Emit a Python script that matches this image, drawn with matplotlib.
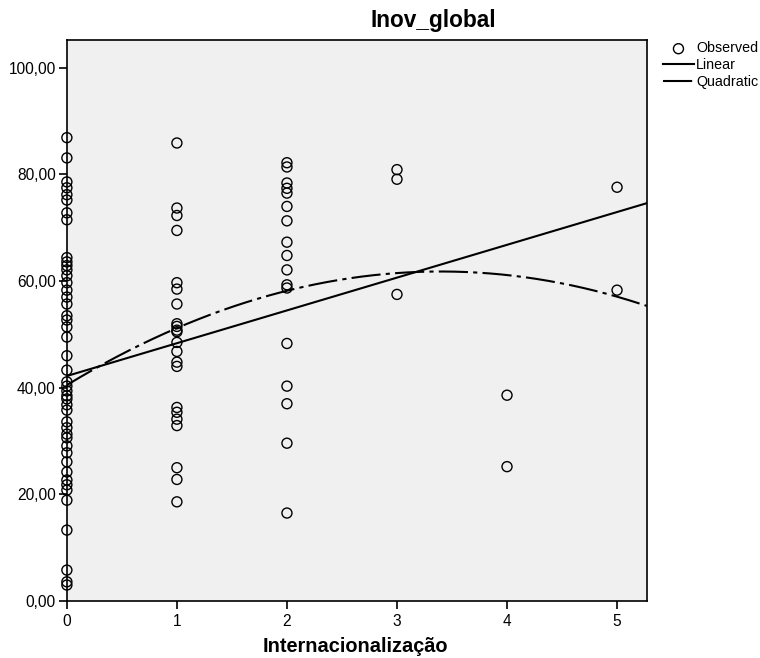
import numpy as np
import matplotlib
matplotlib.use('Agg')
import matplotlib.pyplot as plt
from matplotlib.ticker import FuncFormatter

plt.rcParams['font.family'] = ['Liberation Sans', 'DejaVu Sans']

inov_0 = [86.9, 83.1, 78.6, 77.5, 76.2, 75.2, 72.8, 71.5, 64.4, 63.6, 62.9, 62.1,
          61.0, 59.7, 58.3, 57.0, 55.7, 53.5, 52.7, 51.4, 49.5, 46.0, 43.3, 41.1,
          40.3, 39.4, 38.5, 37.9, 36.8, 35.8, 33.6, 32.5, 31.3, 30.6, 29.1, 27.8,
          26.1, 24.2, 22.7, 21.8, 20.8, 18.9, 13.3, 5.8, 3.6, 3.0]
inov_1 = [85.9, 73.7, 72.3, 69.5, 59.7, 58.5, 55.7, 52.0, 51.5, 50.8, 50.5, 48.5,
          46.8, 44.8, 44.0, 36.3, 35.4, 34.1, 32.9, 25.0, 22.8, 18.6]
inov_2 = [82.2, 81.4, 78.4, 77.4, 76.5, 74.0, 71.3, 67.3, 64.8, 62.1, 59.3, 58.7,
          48.3, 40.3, 37.0, 29.6, 16.5]
inov_3 = [80.9, 79.1, 57.5]
inov_4 = [38.6, 25.2]
inov_5 = [77.6, 58.3]

# fitted model coefficients as shown in the chart (b0, b1[, b2])
linear_coef = [42.2, 6.15]
quadratic_coef = [40.5, 12.53, -1.843]

groups = [inov_0, inov_1, inov_2, inov_3, inov_4, inov_5]
x_obs = np.concatenate([[i] * len(g) for i, g in enumerate(groups)]).astype(float)
y_obs = np.concatenate(groups)

fig = plt.figure(figsize=(7.6, 6.58), dpi=100)
ax = fig.add_axes([0.088, 0.0866, 0.763, 0.8525])
ax.set_facecolor('#F0F0F0')

xx = np.linspace(0, 5.27, 300)
ax.scatter(x_obs, y_obs, s=52, facecolors='none', edgecolors='black',
           linewidths=1.0, zorder=3, label='Observed', clip_on=False)
ax.plot(xx, np.polynomial.polynomial.polyval(xx, linear_coef), color='black',
        lw=1.5, label='Linear')
ax.plot(xx, np.polynomial.polynomial.polyval(xx, quadratic_coef), color='black',
        lw=1.5, dashes=(14, 2.5, 2, 2.5), label='Quadratic')

ax.set_xlim(0, 5.27)
ax.set_ylim(0, 105.2)
ax.set_xticks([0, 1, 2, 3, 4, 5])
ax.set_yticks([0, 20, 40, 60, 80, 100])
ax.yaxis.set_major_formatter(FuncFormatter(lambda v, p: ('%.2f' % v).replace('.', ',')))
ax.tick_params(direction='out', length=6, width=1.2, labelsize=11.2, colors='black')
ax.tick_params(axis='y', pad=2)
for s in ax.spines.values():
    s.set_linewidth(1.2)

fig.text(433 / 760, 1 - 21 / 658, 'Inov_global', fontsize=16.3, fontweight='bold',
         ha='center', va='center')
fig.text(355 / 760, 1 - 646 / 658, 'Internacionalização', fontsize=14.4,
         fontweight='bold', ha='center', va='center')

fig.legend(loc='upper left', bbox_to_anchor=(0.872, 0.937), frameon=False,
           fontsize=10.3, handlelength=2.2, handletextpad=0.15, labelspacing=0.2,
           borderaxespad=0, borderpad=0)

fig.savefig('out.png', dpi=100)
